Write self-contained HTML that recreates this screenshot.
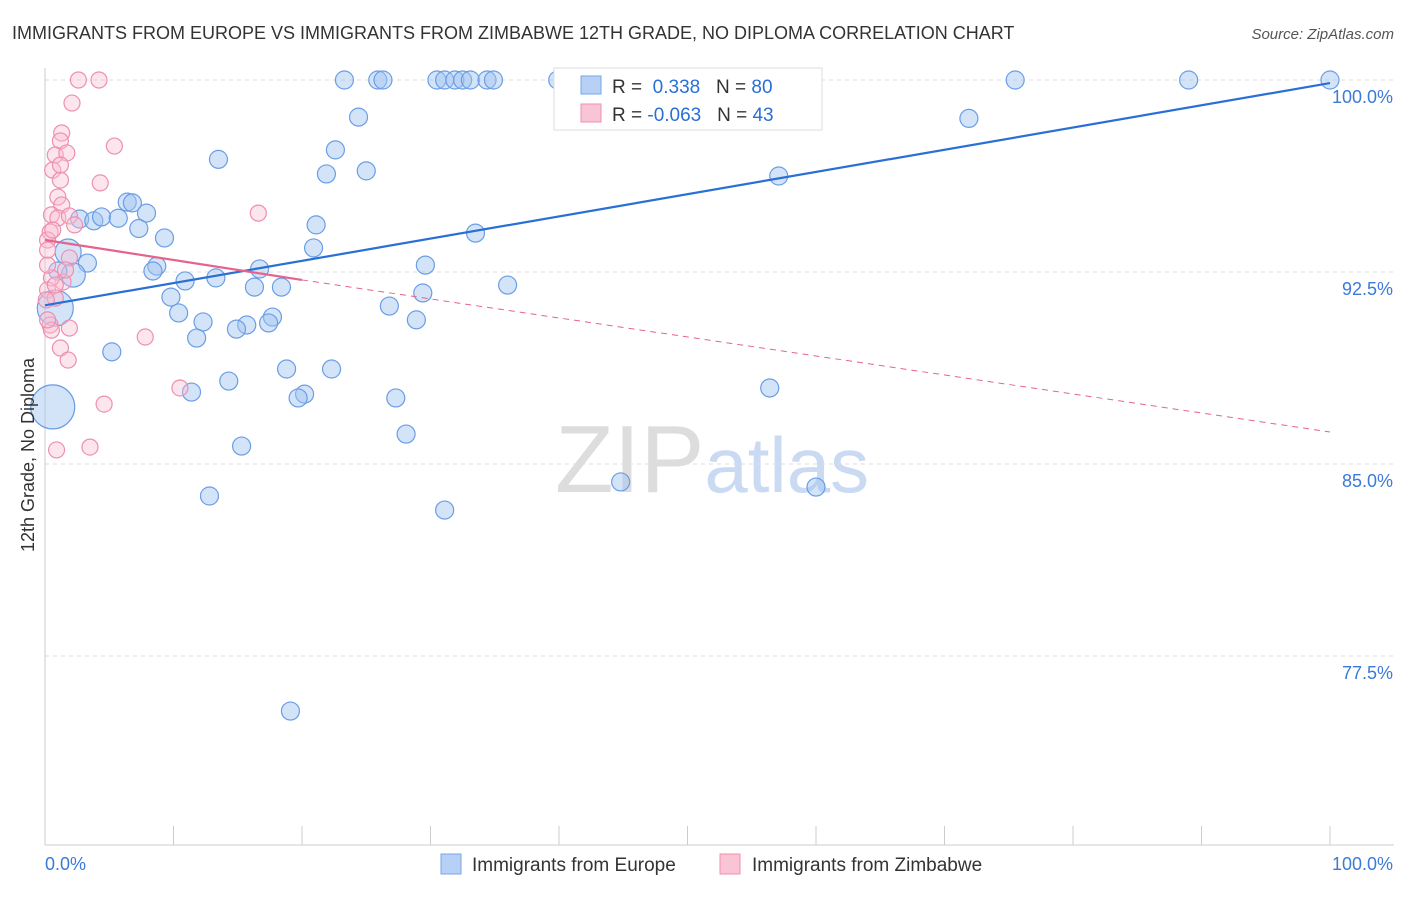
<!DOCTYPE html>
<html><head><meta charset="utf-8"><style>
body{margin:0;background:#fff;font-family:"Liberation Sans",sans-serif;}
svg text{font-family:"Liberation Sans",sans-serif;}
</style></head><body>
<svg id="chart" width="1406" height="892" xmlns="http://www.w3.org/2000/svg">
<text x="12" y="39" font-size="18" fill="#333">IMMIGRANTS FROM EUROPE VS IMMIGRANTS FROM ZIMBABWE 12TH GRADE, NO DIPLOMA CORRELATION CHART</text>
<text x="1394" y="39" font-size="15" fill="#555" text-anchor="end" font-style="italic">Source: ZipAtlas.com</text>
<text x="555" y="492" font-size="96" font-family="Liberation Serif" fill="#ddd">ZIP<tspan fill="#c9daf2" font-family="Liberation Sans" font-size="78">atlas</tspan></text>
<g id="grid"></g><g id="axes"></g><g id="marks"></g>
<text transform="translate(34,455) rotate(-90)" font-size="18" fill="#333" text-anchor="middle">12th Grade, No Diploma</text>
<g>
<rect x="554" y="68" width="268" height="62" fill="#fff" stroke="#ddd"/>
<rect x="581" y="76" width="20" height="18" fill="#b7d0f5" stroke="#7aa6e8"/>
<rect x="581" y="104" width="20" height="18" fill="#f9c4d4" stroke="#ee8fb0"/>
<text x="612" y="93" font-size="19" fill="#333">R = <tspan fill="#2a6fd6">&#160;0.338</tspan>&#160;&#160;&#160;N = <tspan fill="#2a6fd6">80</tspan></text>
<text x="612" y="121" font-size="19" fill="#333">R = <tspan fill="#2a6fd6">-0.063</tspan>&#160;&#160;&#160;N = <tspan fill="#2a6fd6">43</tspan></text>
</g>
<g>
<rect x="441" y="854" width="20" height="20" fill="#b7d0f5" stroke="#7aa6e8"/>
<text x="472" y="871" font-size="19" fill="#333">Immigrants from Europe</text>
<rect x="720" y="854" width="20" height="20" fill="#f9c4d4" stroke="#ee8fb0"/>
<text x="752" y="871" font-size="19" fill="#333">Immigrants from Zimbabwe</text>
</g>
</svg>
<script>
const blueX=[23.3,25.9,26.3,30.5,31.1,31.9,32.5,33.1,34.4,34.9,39.9,40.5,47.6,50.0,75.5,89.0,100.0,24.4,71.9,22.6,13.5,25.0,21.9,57.1,6.4,6.8,7.9,2.7,3.8,4.4,5.7,7.3,21.1,33.5,9.3,20.9,1.8,3.3,29.6,8.7,8.4,16.7,2.2,1.0,10.9,13.3,16.3,18.4,36.0,9.8,29.4,26.8,10.4,17.7,28.9,12.3,15.7,14.9,17.4,11.8,0.8,5.2,18.8,22.3,14.3,56.4,11.4,20.2,19.7,27.3,0.6,28.1,15.3,12.8,44.8,60.0,31.1,19.1];
const blueY=[100,100,100,100,100,100,100,100,100,100,100,100,100,100,100,100,100,98.55,98.5,97.27,96.9,96.45,96.33,96.25,95.23,95.2,94.8,94.57,94.5,94.65,94.6,94.2,94.34,94.02,93.83,93.44,93.28,92.85,92.77,92.73,92.54,92.62,92.38,92.54,92.15,92.27,91.91,91.91,91.99,91.52,91.68,91.17,90.9,90.74,90.63,90.55,90.43,90.27,90.51,89.92,91.09,89.38,88.71,88.71,88.24,87.97,87.81,87.73,87.58,87.58,87.23,86.17,85.7,83.75,84.3,84.1,83.2,75.35];
const blueR=[9,9,9,9,9,9,9,9,9,9,9,9,9,9,9,9,9,9,9,9,9,9,9,9,9,9,9,9,9,9,9,9,9,9,9,9,13,9,9,9,9,9,12,9,9,9,9,9,9,9,9,9,9,9,9,9,9,9,9,9,18,9,9,9,9,9,9,9,9,9,22,9,9,9,9,9,9,9];
const pinkX=[2.6,4.2,2.1,1.3,1.2,5.4,0.8,1.7,0.6,1.2,4.3,1.0,1.3,16.6,0.5,1.0,1.9,2.3,0.4,0.2,1.9,1.4,0.5,0.2,0.8,0.2,0.4,0.5,1.9,7.8,1.2,1.8,10.5,4.6,0.9,3.5,0.2,0.1,0.8,1.6,0.2,0.6,1.2];
const pinkY=[100,100,99.1,97.93,97.62,97.42,97.07,97.15,96.48,96.09,95.98,95.43,95.12,94.8,94.73,94.61,94.69,94.34,94.06,93.75,93.05,92.11,92.27,91.8,91.48,92.77,90.43,90.23,90.31,89.96,89.53,89.06,87.97,87.34,85.55,85.66,90.63,91.41,91.99,92.58,93.36,94.14,96.68];
const yTicks=[100,92.5,85,77.5];
const yTickLabels=["100.0%","92.5%","85.0%","77.5%"];
const blueTrend=[91.2,99.88];
const pinkTrend=[93.75,92.19,86.25];
const ns="http://www.w3.org/2000/svg";
const X=v=>45+v*12.85, Y=v=>80+(100-v)*25.6;
function mk(t,a,p){const e=document.createElementNS(ns,t);for(const k in a)e.setAttribute(k,a[k]);p.appendChild(e);return e;}
const grid=document.getElementById('grid'),axes=document.getElementById('axes'),marks=document.getElementById('marks');
yTicks.forEach((t,i)=>{
 const l=mk('line',{x1:45,x2:1394,y1:Y(t),y2:Y(t),stroke:'#ddd','stroke-dasharray':'4,4'},grid);
 
 
 const tx=mk('text',{x:1393,y:Y(t)+23,'font-size':18,fill:'#3b7ad9','text-anchor':'end'},axes);
 tx.textContent=yTickLabels[i];
 
 
});
mk('line',{x1:45,x2:45,y1:68,y2:845,stroke:'#ccc'},axes);
mk('line',{x1:45,x2:1394,y1:845,y2:845,stroke:'#ccc'},axes);
for(let i=0;i<=10;i++){mk('line',{x1:X(i*10),x2:X(i*10),y1:826,y2:845,stroke:'#ccc'},axes);}
const x0=mk('text',{x:45,y:870,'font-size':18,fill:'#3b7ad9'},axes);x0.textContent='0.0%';


const x1=mk('text',{x:1393,y:870,'font-size':18,fill:'#3b7ad9','text-anchor':'end'},axes);x1.textContent='100.0%';


blueX.forEach((v,i)=>{
 const c=mk('circle',{cx:X(v),cy:Y(blueY[i]),r:blueR[i],fill:'rgba(160,195,240,0.45)',stroke:'#6a9de6','stroke-width':1.2},marks);
 
 
});
pinkX.forEach((v,i)=>{
 const c=mk('circle',{cx:X(v),cy:Y(pinkY[i]),r:8,fill:'rgba(249,190,210,0.4)',stroke:'#ee8fb0','stroke-width':1.2},marks);
 
 
});
const bl=mk('line',{x1:X(0),y1:Y(blueTrend[0]),x2:X(100),y2:Y(blueTrend[1]),stroke:'#2a6fd6','stroke-width':2.2},marks);


const pl=mk('line',{x1:X(0),y1:Y(pinkTrend[0]),x2:X(20),y2:Y(pinkTrend[1]),stroke:'#e4648f','stroke-width':2.2},marks);


const pd=mk('line',{x1:X(20),y1:Y(pinkTrend[1]),x2:X(100),y2:Y(pinkTrend[2]),stroke:'#e4648f','stroke-width':1,'stroke-dasharray':'6,5'},marks);


</script>
</body></html>
